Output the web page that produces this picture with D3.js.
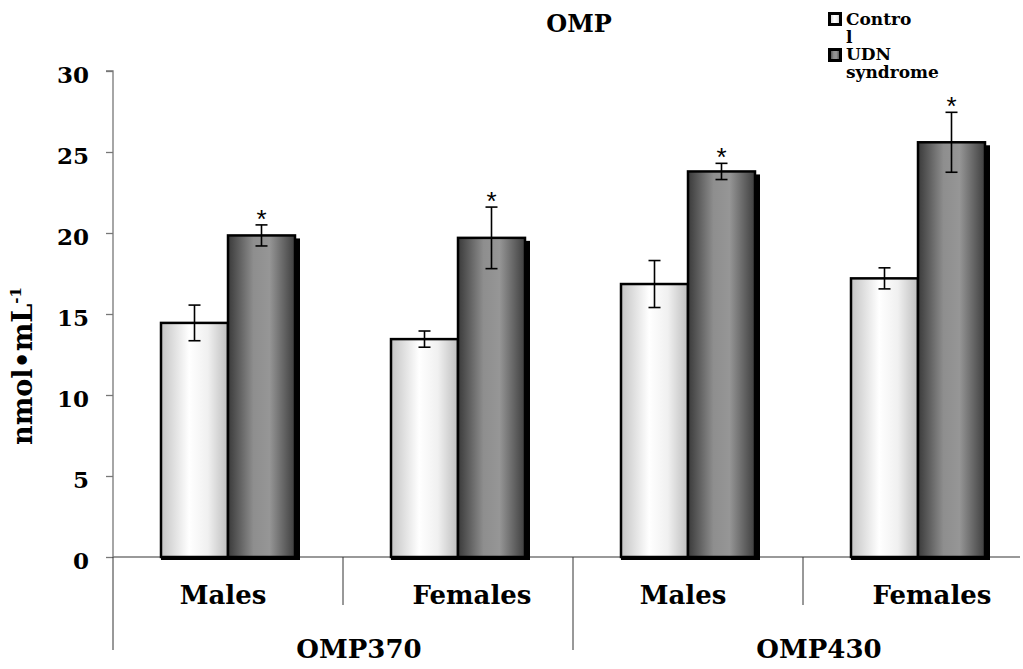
<!DOCTYPE html>
<html><head><meta charset="utf-8">
<script src="https://cdn.jsdelivr.net/npm/d3@7"></script>
<style>body{margin:0;background:#fff}svg{display:block}</style>
</head><body>
<script>
const categories = ["Males","Females","Males","Females"];
const groups = ["OMP370","OMP430"];
const seriesNames = ["Control","UDN syndrome"];
const controlValues = [14.45, 13.45, 16.85, 17.2];
const controlErrors = [1.1, 0.5, 1.45, 0.65];
const udnValues = [19.85, 19.7, 23.8, 25.6];
const udnErrors = [0.65, 1.9, 0.5, 1.85];
const yTicks = [0,5,10,15,20,25,30];

(function(){
const W = 1023, H = 669;
const svg = d3.select("body").append("svg").attr("width", W).attr("height", H);
const defs = svg.append("defs");
const g1 = defs.append("linearGradient").attr("id","gc").attr("x1","0").attr("x2","1").attr("y1","0").attr("y2","0");
[[0,"#c4c4c4"],[0.42,"#ffffff"],[0.7,"#f0f0f0"],[1,"#bdbdbd"]].forEach(s=>g1.append("stop").attr("offset",s[0]).attr("stop-color",s[1]));
const g2 = defs.append("linearGradient").attr("id","gu").attr("x1","0").attr("x2","1").attr("y1","0").attr("y2","0");
[[0,"#3a3a3a"],[0.38,"#8e8e8e"],[0.62,"#969696"],[1,"#3e3e3e"]].forEach(s=>g2.append("stop").attr("offset",s[0]).attr("stop-color",s[1]));

const mLeft = 113, mRight = 1033, mTop = 71, mBottom = 557;
const y = d3.scaleLinear().domain([0,30]).range([mBottom, mTop]);
const x = d3.scaleBand().domain(d3.range(categories.length)).range([mLeft, mRight]).padding(0);
const bw = x.bandwidth();
const xs = d3.scaleBand().domain(seriesNames).range([(bw-134)/2, (bw+134)/2]).padding(0);

const serif = "'DejaVu Serif', serif";

// y axis
const yAxis = svg.append("g").attr("transform",`translate(${mLeft},0)`)
  .call(d3.axisLeft(y).tickValues(yTicks).tickSize(7).tickPadding(17));
yAxis.select(".domain").attr("stroke","#777").attr("stroke-width",1.3).attr("d",`M-7,${mTop}H0V${mBottom}`);
yAxis.selectAll(".tick line").attr("stroke","#777").attr("stroke-width",1.3);
yAxis.selectAll(".tick text").attr("font-family",serif).attr("font-weight","bold").attr("font-size",23).attr("fill","#000").attr("dy","11px");

// baseline
svg.append("line").attr("x1",mLeft).attr("x2",1020).attr("y1",mBottom).attr("y2",mBottom).attr("stroke","#777").attr("stroke-width",1.3);

// dividers
const divs = [0,1,2,3].map(i=>({x:x(i), long: i%2===0}));
svg.selectAll(".div").data(divs).enter().append("line")
  .attr("x1",d=>d.x).attr("x2",d=>d.x).attr("y1",mBottom).attr("y2",d=>d.long?650:605)
  .attr("stroke","#333").attr("stroke-width",1);

// bars
const data = categories.map((c,i)=>({i, c, v:[controlValues[i], udnValues[i]], e:[controlErrors[i], udnErrors[i]]}));
const gg = svg.selectAll(".grp").data(data).enter().append("g").attr("transform",d=>`translate(${x(d.i)},0)`);
gg.append("rect").attr("x",xs(seriesNames[1])+5).attr("y",d=>y(d.v[1])+3).attr("width",xs.bandwidth()).attr("height",d=>mBottom-y(d.v[1])).attr("fill","#000");
gg.append("rect").attr("x",xs(seriesNames[0])).attr("y",mBottom-2).attr("width",xs.bandwidth()*2+5).attr("height",5).attr("fill","#000");
gg.append("rect").attr("x",xs(seriesNames[0])).attr("y",d=>y(d.v[0])).attr("width",xs.bandwidth()).attr("height",d=>mBottom-y(d.v[0]))
  .attr("fill","url(#gc)").attr("stroke","#000").attr("stroke-width",2.5);
gg.append("rect").attr("x",xs(seriesNames[1])).attr("y",d=>y(d.v[1])).attr("width",xs.bandwidth()).attr("height",d=>mBottom-y(d.v[1]))
  .attr("fill","url(#gu)").attr("stroke","#000").attr("stroke-width",2.5);

// error bars
[0,1].forEach(k=>{
  const cx = xs(seriesNames[k]) + xs.bandwidth()/2;
  const eb = gg.append("g").attr("stroke","#000").attr("stroke-width",1.6);
  eb.append("line").attr("x1",cx).attr("x2",cx).attr("y1",d=>y(d.v[k]+d.e[k])).attr("y2",d=>y(d.v[k]-d.e[k]));
  eb.append("line").attr("x1",cx-6).attr("x2",cx+6).attr("y1",d=>y(d.v[k]+d.e[k])).attr("y2",d=>y(d.v[k]+d.e[k]));
  eb.append("line").attr("x1",cx-6).attr("x2",cx+6).attr("y1",d=>y(d.v[k]-d.e[k])).attr("y2",d=>y(d.v[k]-d.e[k]));
});
gg.append("text").attr("x",xs(seriesNames[1])+xs.bandwidth()/2).attr("y",d=>y(d.v[1]+d.e[1])+3)
  .attr("text-anchor","middle").attr("font-family","'Liberation Sans', sans-serif").attr("font-size",26).text("*");

// category labels (Females sit a little right of centre in the reference)
gg.append("text").attr("x",d=>bw/2 + (d.i%2 ? 14 : -5)).attr("y",604).attr("text-anchor","middle")
  .attr("font-family",serif).attr("font-weight","bold").attr("font-size",26).text(d=>d.c);

svg.selectAll(".glab").data(groups).enter().append("text")
  .attr("x",(d,i)=>(x(i*2)+x(i*2+1)+bw)/2 + 16).attr("y",658).attr("text-anchor","middle")
  .attr("font-family",serif).attr("font-weight","bold").attr("font-size",26).text(d=>d);

svg.append("text").attr("x",579).attr("y",32).attr("text-anchor","middle")
  .attr("font-family",serif).attr("font-weight","bold").attr("font-size",24).text("OMP");

svg.append("text").attr("transform","translate(32,366) rotate(-90)").attr("text-anchor","middle")
  .attr("font-family",serif).attr("font-weight","bold").attr("font-size",27)
  .html('nmol•mL<tspan dy="-11" font-size="15">-1</tspan>');

const leg = svg.append("g");
leg.append("rect").attr("x",829.5).attr("y",13.5).attr("width",11).attr("height",11).attr("fill","url(#gc)").attr("stroke","#000").attr("stroke-width",3);
leg.append("rect").attr("x",829.5).attr("y",49.5).attr("width",11).attr("height",11).attr("fill","url(#gu)").attr("stroke","#000").attr("stroke-width",3);
const lt = [["Contro",25],["l",43],["UDN",60],["syndrome",78]];
leg.selectAll("text").data(lt).enter().append("text").attr("x",846).attr("y",d=>d[1])
  .attr("font-family",serif).attr("font-weight","bold").attr("font-size",17).text(d=>d[0]);
})();
</script>
</body></html>
